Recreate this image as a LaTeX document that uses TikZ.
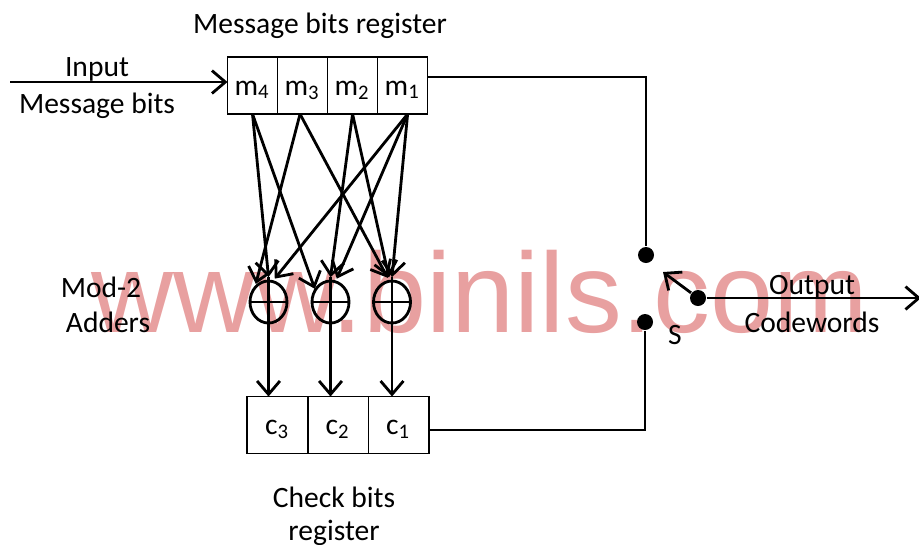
\documentclass[tikz,border=0pt]{standalone}
\usepackage{fontspec}
\setmainfont{Carlito}
\newfontfamily\markfont{Liberation Sans}
\usetikzlibrary{positioning,arrows.meta,shapes.geometric,calc}
\definecolor{markred}{HTML}{E8A0A0}
\tikzset{
  regbox/.style={draw, line width=0.45pt, minimum height=0.57cm, inner sep=0pt, outer sep=0pt, text height=5.6pt, text depth=0pt},
  msgbox/.style={regbox, minimum width=0.5cm},
  chkbox/.style={regbox, minimum width=0.605cm},
  adder/.style={draw, line width=0.8pt, ellipse, minimum width=0.37cm, minimum height=0.42cm, inner sep=0pt, outer xsep=0pt, outer ysep=1.1pt},
  dot/.style={circle, fill=black, minimum size=0.16cm, inner sep=0pt},
  label/.style={inner sep=0pt, align=center, yshift=-0.025cm},
  wire/.style={line width=0.8pt},
  arr/.style={line width=0.8pt, -{Straight Barb[length=3.8pt,width=6.5pt,line width=0.8pt]}}
}
\begin{document}
\begin{tikzpicture}[x=0.01cm, y=-0.01cm, font=\fontsize{8.4}{10}\selectfont]
  \useasboundingbox (0,0) rectangle (919,544);
  \node[msgbox] (m4) at (252.5,85.5) {m\textsubscript{4}};
  \node[msgbox, right=0pt of m4] (m3) {m\textsubscript{3}};
  \node[msgbox, right=0pt of m3] (m2) {m\textsubscript{2}};
  \node[msgbox, right=0pt of m2] (m1) {m\textsubscript{1}};
  \node[chkbox] (c3) at (277.5,425) {c\textsubscript{3}};
  \node[chkbox, right=0pt of c3] (c2) {c\textsubscript{2}};
  \node[chkbox, right=0pt of c2] (c1) {c\textsubscript{1}};
  \node[adder] (a1) at (268.5,302) {};
  \node[adder] (a2) at (330.5,302) {};
  \node[adder] (a3) at (392,302) {};
  \foreach \n in {a1,a2,a3} {
    \draw[wire] (\n.north) -- (\n.south);
    \draw[wire] (\n.west) -- (\n.east);
  }
  \draw[arr] (m4.south) -- (a1.north);
  \draw[arr] (m4.south) -- (a2.140);
  \draw[arr] (m3.-95) -- (a1.125);
  \draw[arr] (m3.-95) -- (a3.100);
  \draw[arr] (m2.south) -- (a2.north);
  \draw[arr] (m2.south) -- (a3.97);
  \draw[arr] (m1.-80) -- (a1.75);
  \draw[arr] (m1.-80) -- (a2.75);
  \draw[arr] (m1.-80) -- (a3.north);
  \draw[arr] (a1.south) -- (a1 |- c3.north);
  \draw[arr] (a2.south) -- (a2 |- c2.north);
  \draw[arr] (a3.south) -- (a3 |- c1.north);
  \coordinate (inp) at (10,82);
  \draw[arr] (inp) -- (m4.west |- inp);
  \node[dot] (d1) at (646,255) {};
  \node[dot] (d2) at (645,322) {};
  \node[dot] (d3) at (698,298) {};
  \coordinate (top) at (m1.east |- 0,77);
  \coordinate (bot) at (c1.east |- 0,430);
  \draw[wire] (top) -| (d1);
  \draw[wire] (bot) -| (d2);
  \coordinate (tip) at (663,272);
  \coordinate (out) at (921,298);
  \draw[arr] (d3) -- (tip);
  \draw[arr] (d3) -- (out);
  \node[label] (title) at (320,23) {Message bits register};
  \node[label] (input) at (97,67) {Input};
  \node[label] (msg) at (97,103) {Message bits};
  \node[label] (mod) at (101,285) {Mod-2};
  \node[label] (add) at (108,320) {Adders};
  \node[label] (output) at (812,285) {Output};
  \node[label] (code) at (812,320) {Codewords};
  \node[label] (s) at (675,332) {S};
  \node[label] (chk) at (334,495) {Check bits};
  \node[label] (reg) at (334,530) {register};
  \begin{scope}[blend mode=multiply]
    \node[inner sep=0pt, text=markred, anchor=base] (mark) at (480,332) {\markfont\fontsize{32.3}{32}\selectfont www.binils.com};
  \end{scope}
\end{tikzpicture}
\end{document}
